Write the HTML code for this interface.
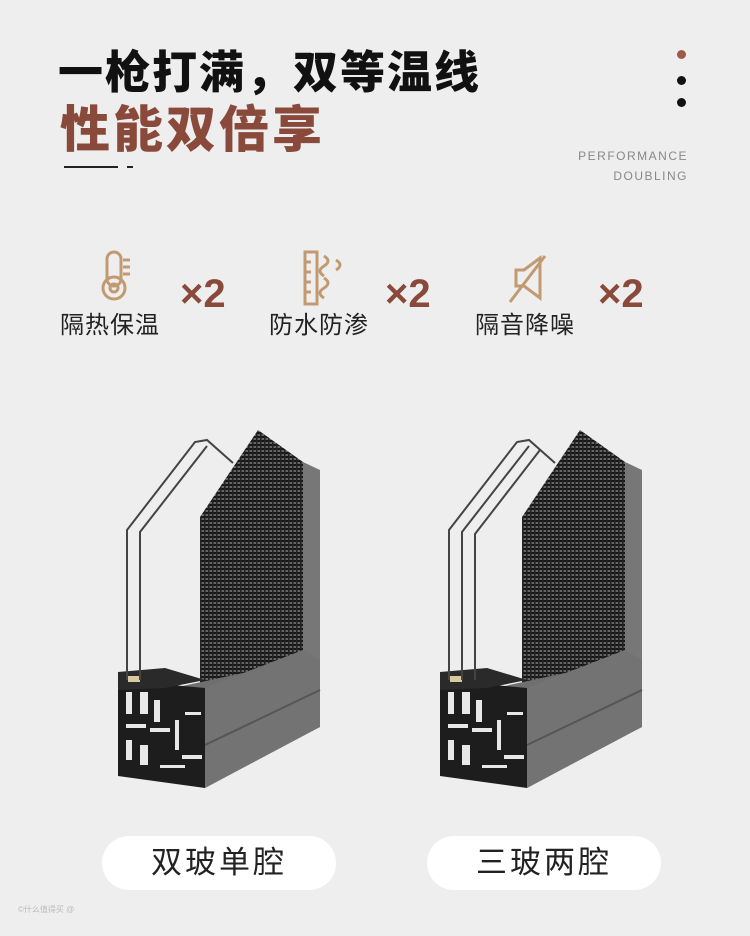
<!DOCTYPE html>
<html><head><meta charset="utf-8"><style>
body{margin:0;width:750px;height:936px;background:#eeeeee;position:relative;overflow:hidden;font-family:"Liberation Sans","Noto Sans CJK SC",sans-serif}
.a{position:absolute;white-space:nowrap}
.t1{left:58px;top:36px;font-size:45px;font-weight:900;color:#111;letter-spacing:2px}
.t2{left:60px;top:90px;font-size:50px;font-weight:900;color:#8a4a3b;letter-spacing:3px}
.en{right:62px;font-size:12px;color:#888;letter-spacing:1.5px;text-align:right}
.lab{font-size:24px;color:#222;top:305px;letter-spacing:1px}
.x2{font-size:40px;font-weight:bold;color:#8a4a3b;top:272px}
.dot{position:absolute;width:9px;height:9px;border-radius:50%;left:677px}
.pill{position:absolute;top:836px;width:234px;height:54px;border-radius:27px;background:#fff;font-size:31px;color:#222;text-align:center;line-height:54px;letter-spacing:3px}
</style></head><body>
<div class="a t1">一枪打满，双等温线</div>
<div class="a t2">性能双倍享</div>
<div class="a" style="left:64px;top:166px;width:54px;height:2px;background:#222"></div>
<div class="a" style="left:127px;top:166px;width:6px;height:2px;background:#222"></div>
<div class="dot" style="top:50px;background:#a0584a"></div>
<div class="dot" style="top:76px;background:#111"></div>
<div class="dot" style="top:98px;background:#111"></div>
<div class="a en" style="top:149px">PERFORMANCE</div>
<div class="a en" style="top:169px">DOUBLING</div>

<svg class="a" style="left:0;top:240px" width="750" height="70" viewBox="0 0 750 70">
<g fill="none" stroke="#c29a72" stroke-width="3">
<rect x="107" y="12" width="14" height="34" rx="7"/><circle cx="114" cy="48" r="11"/><circle cx="114" cy="48" r="4"/>
<line x1="123" y1="20" x2="130" y2="20"/><line x1="123" y1="27" x2="130" y2="27"/><line x1="123" y1="34" x2="130" y2="34"/>
<rect x="305" y="12" width="12" height="52"/><line x1="305" y1="22" x2="311" y2="22"/><line x1="305" y1="32" x2="311" y2="32"/><line x1="305" y1="42" x2="311" y2="42"/><line x1="305" y1="52" x2="311" y2="52"/>
<path d="M324 16q8 5 0 10q-8 5 0 10M324 38q8 5 0 10q-8 5 0 10M336 20q8 5 0 10"/>
<path d="M516 30h8l16-12v40l-16-12h-8z"/><line x1="510" y1="62" x2="545" y2="16"/>
</g></svg>
<div class="a x2" style="left:180px">×2</div>
<div class="a x2" style="left:385px">×2</div>
<div class="a x2" style="left:598px">×2</div>
<div class="a lab" style="left:60px">隔热保温</div>
<div class="a lab" style="left:269px">防水防渗</div>
<div class="a lab" style="left:475px">隔音降噪</div>

<svg class="a" style="left:0;top:0" width="750" height="936" viewBox="0 0 750 936">
<defs>
<pattern id="m" width="4" height="4" patternUnits="userSpaceOnUse"><rect width="4" height="4" fill="#666"/><rect width="4" height="2" fill="#161616"/><rect width="1.6" height="4" fill="#222"/></pattern>
<g id="w">
<polygon points="303,462 320,470 320,727 303,735" fill="#777"/>
<polygon points="200,517 258,430 303,462 303,735 200,700" fill="url(#m)"/>
<polygon points="118,700 303,660 303,735 205,788 118,760" fill="#6f6f6f"/>
<polygon points="200,690 303,650 320,660 320,727 205,788" fill="#737373"/>
<line x1="205" y1="745" x2="320" y2="690" stroke="#555" stroke-width="2"/>
<polygon points="118,680 205,688 205,788 118,776" fill="#1d1d1d"/>
<g fill="#e8e8e8">
<rect x="126" y="692" width="6" height="22"/><rect x="140" y="692" width="8" height="22"/><rect x="154" y="700" width="6" height="22"/>
<rect x="126" y="724" width="20" height="4"/><rect x="150" y="728" width="20" height="4"/><rect x="175" y="720" width="4" height="30"/>
<rect x="126" y="740" width="6" height="20"/><rect x="140" y="745" width="8" height="20"/><rect x="182" y="755" width="20" height="4"/>
<rect x="185" y="712" width="16" height="3"/><rect x="160" y="765" width="25" height="3"/>
</g>
<polygon points="118,672 165,668 205,680 165,688 118,690" fill="#2a2a2a"/>
<rect x="128" y="676" width="12" height="6" fill="#d8c9a0"/>
<path d="M127,680 V530 L195,442 L207,440 L233,463 M140,680 V532 L207,446" fill="none" stroke="#444" stroke-width="2"/>
</g>
</defs>
<use href="#w"/>
<g transform="translate(322,0)"><use href="#w"/><path d="M153,680 V534 L218,450" fill="none" stroke="#444" stroke-width="2"/></g>
</svg>

<div class="pill" style="left:102px">双玻单腔</div>
<div class="pill" style="left:427px">三玻两腔</div>
<div class="a" style="left:18px;top:904px;font-size:8px;color:#bbb">©什么值得买 @</div>
</body></html>
